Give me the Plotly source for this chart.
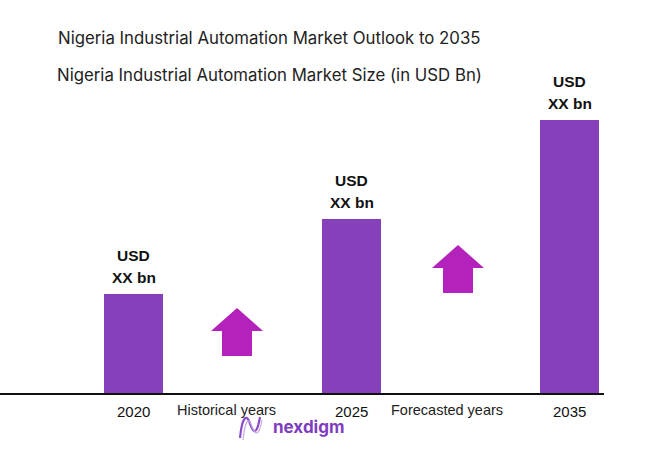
import plotly.graph_objects as go

# chart data
years = ["2020", "2025", "2035"]
market_size = [1.00, 1.75, 2.74]          # relative bar heights (values shown as XX)
value_line1 = ["USD", "USD", "USD"]
value_line2 = ["XX bn", "XX bn", "XX bn"]
period_labels = ["Historical years", "Forecasted years"]

title = "Nigeria Industrial Automation Market Outlook to 2035"
subtitle = "Nigeria Industrial Automation Market Size (in USD Bn)"

W, H = 663, 469
BAR = "#8640B9"
ARROW = "#B322BA"


def px(x):
    return x / W


def py(y):
    return 1 - y / H


def block_arrow(tip_x, tip_y, half_head, half_shaft, head_h, total_h):
    base = tip_y + head_h
    bottom = tip_y + total_h
    pts = [
        (tip_x, tip_y), (tip_x + half_head, base), (tip_x + half_shaft, base),
        (tip_x + half_shaft, bottom), (tip_x - half_shaft, bottom),
        (tip_x - half_shaft, base), (tip_x - half_head, base),
    ]
    return "M " + " L ".join(f"{px(a):.4f},{py(b):.4f}" for a, b in pts) + " Z"


fig = go.Figure()
fig.add_trace(
    go.Bar(
        x=years,
        y=market_size,
        width=0.27,
        marker=dict(color=BAR, line=dict(width=0)),
        hoverinfo="skip",
    )
)

lbl_font = dict(family="Liberation Sans", size=15.5, color="#111111")
annotations = []
# category axis: annotations placed by category index
for i, (v, l1, l2) in enumerate(zip(market_size, value_line1, value_line2)):
    annotations.append(dict(x=i, y=v, text=f"<b>{l2}</b>", showarrow=False,
                            yanchor="middle", yshift=17, font=lbl_font))
    annotations.append(dict(x=i, y=v, text=f"<b>{l1}</b>", showarrow=False,
                            yanchor="middle", yshift=39, font=lbl_font))
    # year label under the bar
    annotations.append(dict(x=i, y=0, text=years[i], showarrow=False,
                            yanchor="middle", yshift=-17,
                            font=dict(family="Liberation Sans", size=15, color="#111111")))

# period labels between the bars
for lbl, xpos in zip(period_labels, [226, 447]):
    annotations.append(dict(xref="paper", yref="paper", x=px(xpos), y=py(410),
                            text=lbl, showarrow=False, xanchor="center", yanchor="middle",
                            font=dict(family="Liberation Sans", size=14.5, color="#222222")))

annotations += [
    dict(xref="paper", yref="paper", x=px(56), y=py(38), text=title, showarrow=False,
         xanchor="left", yanchor="middle",
         font=dict(family="Inter", size=16.8, color="#222222")),
    dict(xref="paper", yref="paper", x=px(55), y=py(75), text=subtitle, showarrow=False,
         xanchor="left", yanchor="middle",
         font=dict(family="Inter", size=16.8, color="#222222")),
    dict(xref="paper", yref="paper", x=px(271), y=py(427), text="<b>nexdigm</b>",
         showarrow=False, xanchor="left", yanchor="middle",
         font=dict(family="Inter", size=17, color="#7E3CC0")),
]

shapes = [
    # baseline
    dict(type="line", xref="paper", yref="paper", x0=0, x1=px(604), y0=py(394), y1=py(394),
         line=dict(color="#111111", width=2)),
    dict(type="path", xref="paper", yref="paper", path=block_arrow(237, 308, 26, 15, 23, 48),
         fillcolor=ARROW, line=dict(width=0)),
    dict(type="path", xref="paper", yref="paper", path=block_arrow(458, 245, 26, 15, 23, 48),
         fillcolor=ARROW, line=dict(width=0)),
    # logo wave
    dict(type="path", xref="paper", yref="paper",
         path=(f"M {px(240)},{py(438)} C {px(242)},{py(418)} {px(246)},{py(414)} {px(249)},{py(421)} "
               f"C {px(252)},{py(430)} {px(256)},{py(440)} {px(260)},{py(417)}"),
         line=dict(color="#8A4CC8", width=2.2)),
    dict(type="path", xref="paper", yref="paper",
         path=(f"M {px(243)},{py(440)} C {px(245)},{py(422)} {px(248)},{py(417)} {px(251)},{py(424)} "
               f"C {px(254)},{py(432)} {px(258)},{py(441)} {px(262)},{py(420)}"),
         line=dict(color="#C9A9E6", width=1.2)),
]

fig.update_layout(
    width=W,
    height=H,
    margin=dict(l=0, r=0, t=0, b=0),
    paper_bgcolor="white",
    plot_bgcolor="white",
    showlegend=False,
    bargap=0,
    xaxis=dict(
        type="category",
        range=[-133.5 / 218, (W - 133.5) / 218],
        showgrid=False, zeroline=False, showline=False,
        showticklabels=False, ticks="",
        fixedrange=True,
    ),
    yaxis=dict(
        domain=[py(394), 1],
        range=[0, 3.94],
        visible=False,
        fixedrange=True,
    ),
    annotations=annotations,
    shapes=shapes,
)

# drop the browser's default body margin so the figure sits at the page corner
fig.write_html("out.html", config={"displayModeBar": False},
               post_script="document.body.style.margin='0';")
